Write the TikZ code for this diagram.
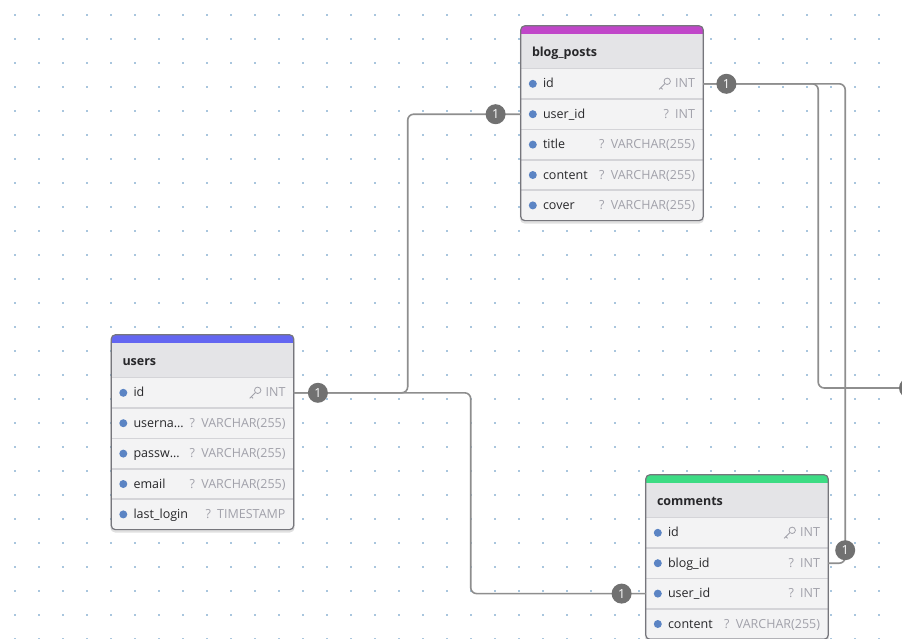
\documentclass[tikz,border=0pt]{standalone}
\usepackage{fontspec}
\setmainfont{Open Sans}
\usetikzlibrary{positioning,backgrounds}

\definecolor{barpurple}{HTML}{C046C9}
\definecolor{barblue}{HTML}{6366F1}
\definecolor{bargreen}{HTML}{3DDC84}
\definecolor{headfill}{HTML}{E4E4E7}
\definecolor{rowfill}{HTML}{F3F3F4}
\definecolor{sepgray}{HTML}{D4D4D8}
\definecolor{framegray}{HTML}{76767C}
\definecolor{dotblue}{HTML}{5B84C4}
\definecolor{typegray}{HTML}{A1A1AA}
\definecolor{namegray}{HTML}{27272A}
\definecolor{linkgray}{HTML}{8E8E8E}
\definecolor{badgegray}{HTML}{717171}
\definecolor{gridblue}{HTML}{A9C6DE}

\newcommand\ty[1]{{\color{typegray}#1}}
% background, colour bar and frame of one table
\newcommand\tablebox[3]{%
  \begin{scope}[on background layer]
    \fill[black,opacity=.12,rounded corners=5pt] ([xshift=-1pt,yshift=-3pt]#1.north west) rectangle ([xshift=1pt,yshift=-3pt]#2.south east);
    \begin{scope}
      \clip[rounded corners=4pt] (#1.north west) rectangle (#2.south east);
      \fill[rowfill] (#1.north west) rectangle (#2.south east);
      \fill[headfill] (#1-head.north west) rectangle (#1-head.south east);
      \fill[#3] (#1.north west) rectangle (#1.south east);
    \end{scope}
  \end{scope}
  \draw[framegray,line width=1.2pt,rounded corners=4pt] (#1.north west) rectangle (#2.south east);
}

\begin{document}
\begin{tikzpicture}[x=1pt,y=-1pt,font=\fontsize{12.5}{14}\selectfont,
    bar/.style={minimum width=182pt,minimum height=8pt,inner sep=0pt},
    sepline/.style={sepgray,line width=1.5pt},
    head/.style={minimum height=34pt,text width=160pt,inner xsep=11pt,inner ysep=0pt,
      text height=11pt,text depth=1pt,
      font=\fontsize{12.5}{14}\selectfont\bfseries,text=namegray,
      append after command={\pgfextra{\draw[sepline] (\tikzlastnode.south west) -- (\tikzlastnode.south east);}}},
    row/.style={minimum height=30pt,text width=166pt,inner xsep=8pt,inner ysep=0pt,
      text height=10pt,text depth=2pt,text=namegray,
      append after command={\pgfextra{\draw[sepline] (\tikzlastnode.south west) -- (\tikzlastnode.south east);
        \fill[dotblue] ([xshift=12pt]\tikzlastnode.west) circle (4pt);}}},
    link/.style={linkgray,line width=1.6pt,rounded corners=6pt},
    badge/.style={circle,fill=badgegray,text=white,minimum size=20pt,inner sep=0pt,
      font=\fontsize{12.5}{12}\selectfont},
    keyic/.style={typegray,line width=0.8pt}]

  \useasboundingbox (0,0) rectangle (902,638);
  \begin{scope}[on background layer]
    \fill[white] (0,0) rectangle (902,638);
    \foreach \x in {15,39,...,903}
      \foreach \y in {15,39,...,639}
        \fill[gridblue] (\x-1,\y-1) rectangle (\x+1,\y+1);
  \end{scope}

  % blog_posts
  \node[bar] (bp) at (612,30) {};
  \node[head,below=0pt of bp] (bp-head) {blog\_posts};
  \node[row,below=0pt of bp-head] (bp-id) {\hspace*{14pt}id\hfill\ty{INT}};
  \node[row,below=0pt of bp-id] (bp-uid) {\hspace*{14pt}user\_id\hfill\ty{? INT}};
  \node[row,below=0pt of bp-uid] (bp-title) {\hspace*{14pt}title\hfill\ty{? VARCHAR(255)}};
  \node[row,below=0pt of bp-title] (bp-content) {\hspace*{14pt}content\hfill\ty{? VARCHAR(255)}};
  \node[row,below=0pt of bp-content] (bp-cover) {\hspace*{14pt}cover\hfill\ty{? VARCHAR(255)}};
  \tablebox{bp}{bp-cover}{barpurple}

  % users
  \node[bar] (us) at (202.5,339) {};
  \node[head,below=0pt of us] (us-head) {users};
  \node[row,below=0pt of us-head] (us-id) {\hspace*{14pt}id\hfill\ty{INT}};
  \node[row,below=0pt of us-id] (us-name) {\hspace*{14pt}userna…\hfill\ty{? VARCHAR(255)}};
  \node[row,below=0pt of us-name] (us-pass) {\hspace*{14pt}passw…\hfill\ty{? VARCHAR(255)}};
  \node[row,below=0pt of us-pass] (us-mail) {\hspace*{14pt}email\hfill\ty{? VARCHAR(255)}};
  \node[row,below=0pt of us-mail] (us-login) {\hspace*{14pt}last\_login\hfill\ty{? TIMESTAMP}};
  \tablebox{us}{us-login}{barblue}

  % comments
  \node[bar] (cm) at (737,479) {};
  \node[head,below=0pt of cm] (cm-head) {comments};
  \node[row,below=0pt of cm-head] (cm-id) {\hspace*{14pt}id\hfill\ty{INT}};
  \node[row,below=0pt of cm-id] (cm-bid) {\hspace*{14pt}blog\_id\hfill\ty{? INT}};
  \node[row,below=0pt of cm-bid] (cm-uid) {\hspace*{14pt}user\_id\hfill\ty{? INT}};
  \node[row,below=0pt of cm-uid] (cm-content) {\hspace*{14pt}content\hfill\ty{? VARCHAR(255)}};
  \tablebox{cm}{cm-content}{bargreen}

  % key icons
  \foreach \r in {bp-id,us-id,cm-id} {
    \draw[keyic] ([xshift=-36pt,yshift=2.5pt]\r.east) circle (3.2pt);
    \draw[keyic] ([xshift=-38.3pt,yshift=0.2pt]\r.east) -- ([xshift=-44pt,yshift=-5.5pt]\r.east);
    \draw[keyic] ([xshift=-42.3pt,yshift=-3.8pt]\r.east) -- ([xshift=-40.6pt,yshift=-5.5pt]\r.east);
  }

  % links
  \coordinate (ext) at (912,388);
  \draw[link] (us-id.east) -- ++(114,0) |- (bp-uid.west);
  \draw[link] (us-id.east) -- ++(177,0) |- (cm-uid.west);
  \draw[link] (bp-id.east) -- ++(115,0) |- (ext);
  \draw[link] (bp-id.east) -- ++(142,0) |- (cm-bid.east);

  \node[badge,right=14pt of us-id] (b-usid) {1};
  \node[badge,left=15pt of bp-uid] (b-bpuid) {1};
  \node[badge,left=14pt of cm-uid] (b-cmuid) {1};
  \node[badge,right=13pt of bp-id] (b-bpid) {1};
  \node[badge] (b-cmbid) at ([xshift=17pt,yshift=13pt]cm-bid.east) {1};
  \node[badge] (b-ext) at (909,388) {};
\end{tikzpicture}
\end{document}
